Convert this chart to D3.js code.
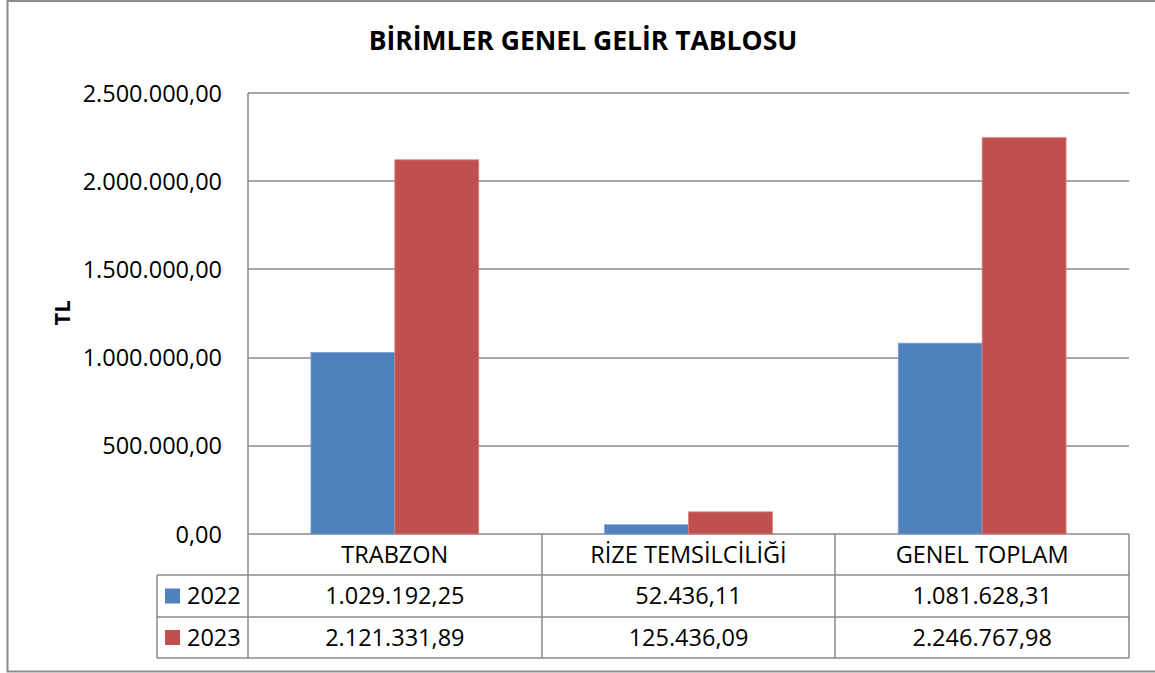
<!DOCTYPE html>
<html>
<head>
<meta charset="utf-8">
<script src="https://d3js.org/d3.v7.min.js"></script>
<style>
  html, body { margin: 0; padding: 0; background: #fff; }
  svg { display: block; font-family: 'Open Sans', sans-serif; }
  .tick-label, .cell { font-size: 23.5px; fill: #000; }
  .title { font-size: 26.5px; font-weight: 700; fill: #000; }
  .ylab { font-size: 22px; font-weight: 700; fill: #000; }
  .grid, .tbl { stroke: #898989; stroke-width: 1.5; fill: none; }
</style>
</head>
<body>
<script>
// values
const categories = ["TRABZON", "RİZE TEMSİLCİLİĞİ", "GENEL TOPLAM"];
const years = ["2022", "2023"];
const values2022 = [1029192.25, 52436.11, 1081628.31];
const values2023 = [2121331.89, 125436.09, 2246767.98];
const yTicks = [0, 500000, 1000000, 1500000, 2000000, 2500000];
const colors = ["#4F81BD", "#C0504D"];
const edges = ["#7aa0d0", "#d77f7c"];

const series = [values2022, values2023];

const W = 1155, H = 673;
const plot = { left: 248, right: 1129, top: 93, bottom: 534 };
const rowBottoms = [575, 617, 658];
const legendLeft = 157;

const tr = d3.formatLocale({ decimal: ",", thousands: ".", grouping: [3], currency: ["", ""] });
const fmt = tr.format(",.2f");

const svg = d3.select("body").append("svg")
    .attr("width", W)
    .attr("height", H);

// outer chart border (right side runs off the page)
svg.append("path")
    .attr("d", `M${W + 5},1 L7.5,1 L7.5,671.5 L${W + 5},671.5`)
    .attr("fill", "none")
    .attr("stroke", "#8c8c8c")
    .attr("stroke-width", 2);

svg.append("text")
    .attr("class", "title")
    .attr("x", 583)
    .attr("y", 50)
    .attr("text-anchor", "middle")
    .text("BİRİMLER GENEL GELİR TABLOSU");

const x = d3.scaleBand()
    .domain(categories)
    .range([plot.left, plot.right]);

const xSub = d3.scaleBand()
    .domain(years)
    .range([0, x.bandwidth()])
    .paddingInner(0)
    .paddingOuter(0.75);

const y = d3.scaleLinear()
    .domain([0, 2500000])
    .range([plot.bottom, plot.top]);

// gridlines
svg.selectAll(".grid-line")
    .data(yTicks)
    .enter().append("line")
    .attr("class", "grid")
    .attr("x1", plot.left)
    .attr("x2", plot.right)
    .attr("y1", d => Math.round(y(d)))
    .attr("y2", d => Math.round(y(d)));

// y tick labels
svg.selectAll(".tick-label")
    .data(yTicks)
    .enter().append("text")
    .attr("class", "tick-label")
    .attr("x", 222)
    .attr("y", d => y(d) + 8.5)
    .attr("text-anchor", "end")
    .text(d => fmt(d));

svg.append("text")
    .attr("class", "ylab")
    .attr("transform", "translate(70,313) rotate(-90)")
    .attr("text-anchor", "middle")
    .text("TL");

// bars
years.forEach((yr, i) => {
    svg.selectAll(".bar-" + yr)
        .data(categories)
        .enter().append("rect")
        .attr("x", d => x(d) + xSub(yr))
        .attr("y", (d, j) => y(series[i][j]))
        .attr("width", xSub.bandwidth())
        .attr("height", (d, j) => plot.bottom - y(series[i][j]))
        .attr("fill", colors[i])
        .attr("stroke", edges[i])
        .attr("stroke-width", 0.8);
});

// data table
const tbl = svg.append("g");
// left axis line through the table
tbl.append("line").attr("class", "tbl")
    .attr("x1", plot.left).attr("x2", plot.left)
    .attr("y1", plot.top).attr("y2", rowBottoms[2]);
// category dividers and right edge
const dividers = categories.slice(1).map(c => x(c)).concat([plot.right]);
tbl.selectAll(".div")
    .data(dividers)
    .enter().append("line")
    .attr("class", "tbl")
    .attr("x1", d => Math.round(d)).attr("x2", d => Math.round(d))
    .attr("y1", plot.bottom).attr("y2", rowBottoms[2]);
// row lines
tbl.selectAll(".row")
    .data(rowBottoms)
    .enter().append("line")
    .attr("class", "tbl")
    .attr("x1", legendLeft).attr("x2", plot.right)
    .attr("y1", d => d).attr("y2", d => d);
tbl.append("line").attr("class", "tbl")
    .attr("x1", legendLeft).attr("x2", legendLeft)
    .attr("y1", rowBottoms[0]).attr("y2", rowBottoms[2]);

// header row
tbl.selectAll(".head")
    .data(categories)
    .enter().append("text")
    .attr("class", "cell")
    .attr("x", d => x(d) + x.bandwidth() / 2)
    .attr("y", (plot.bottom + rowBottoms[0]) / 2 + 8)
    .attr("text-anchor", "middle")
    .text(d => d);

// value rows + legend keys
years.forEach((yr, i) => {
    const top = rowBottoms[i], bot = rowBottoms[i + 1];
    const mid = (top + bot) / 2;
    tbl.append("rect")
        .attr("x", 165)
        .attr("y", mid - 7.5)
        .attr("width", 15)
        .attr("height", 15)
        .attr("fill", colors[i]);
    tbl.append("text")
        .attr("class", "cell")
        .attr("x", 187)
        .attr("y", mid + 8)
        .text(yr);
    tbl.selectAll(".val-" + yr)
        .data(categories)
        .enter().append("text")
        .attr("class", "cell")
        .attr("x", d => x(d) + x.bandwidth() / 2)
        .attr("y", mid + 8)
        .attr("text-anchor", "middle")
        .text((d, j) => fmt(series[i][j]));
});
</script>
</body>
</html>
